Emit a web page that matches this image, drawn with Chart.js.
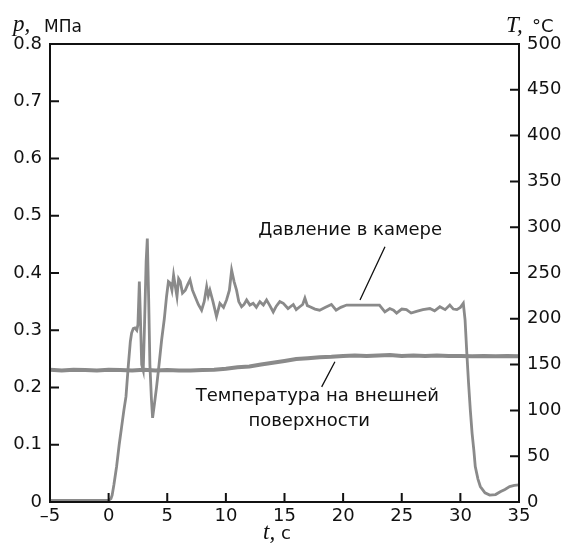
<!DOCTYPE html>
<html>
<head>
<meta charset="utf-8">
<script src="https://cdn.jsdelivr.net/npm/chart.js@4.4.1/dist/chart.umd.min.js"></script>
<style>
  html, body { margin: 0; padding: 0; background: #fff; }
  #chart { display: block; }
</style>
</head>
<body>
<canvas id="chart" width="566" height="543"></canvas>
<script>
// Pressure in the chamber, MPa (left axis)
const pressureTime = [
  -5, -2, 0, 0.2, 0.3, 0.45, 0.68, 0.9, 1.1, 1.3,
  1.48, 1.67, 1.85, 1.96, 2.1, 2.24, 2.4, 2.5, 2.62, 2.7,
  2.82, 2.95, 3.05, 3.2, 3.3, 3.42, 3.52, 3.65, 3.75, 3.9,
  4.09, 4.3, 4.52, 4.75, 4.94, 5.1, 5.26, 5.4, 5.54, 5.7,
  5.83, 5.97, 6.11, 6.3, 6.54, 6.75, 6.94, 7.15, 7.37, 7.65,
  7.93, 8.15, 8.36, 8.5, 8.64, 8.9, 9.2, 9.49, 9.8, 10.06,
  10.3, 10.49, 10.7, 10.91, 11.1, 11.34, 11.55, 11.77, 12.05, 12.33,
  12.6, 12.9, 13.2, 13.47, 13.75, 14.04, 14.3, 14.6, 14.9, 15.3,
  15.75, 16.0, 16.3, 16.55, 16.74, 16.95, 17.17, 17.6, 18.0, 18.5,
  19.0, 19.4, 19.8, 20.3, 21, 22, 23.1, 23.56, 23.98, 24.3,
  24.56, 25, 25.4, 25.8, 26.26, 26.8, 27.4, 27.8, 28.25, 28.7,
  29.1, 29.4, 29.7, 30.0, 30.25, 30.4, 30.55, 30.7, 30.85, 31.0,
  31.15, 31.27, 31.5, 31.7, 32.1, 32.5, 33.0, 33.4, 33.8, 34.2,
  34.6, 35
];
const pressureValue = [
  0.003, 0.003, 0.003, 0.006, 0.012, 0.03, 0.062, 0.1, 0.13, 0.16,
  0.184, 0.236, 0.28, 0.295, 0.303, 0.304, 0.3, 0.31, 0.385, 0.33,
  0.24, 0.23, 0.3, 0.42, 0.46, 0.35, 0.24, 0.18, 0.147, 0.17,
  0.201, 0.24, 0.283, 0.32, 0.359, 0.385, 0.382, 0.37, 0.396, 0.375,
  0.359, 0.39, 0.385, 0.365, 0.37, 0.38, 0.388, 0.37, 0.359, 0.345,
  0.335, 0.35, 0.376, 0.36, 0.37, 0.35, 0.324, 0.347, 0.34, 0.353,
  0.37, 0.405, 0.385, 0.37, 0.35, 0.341, 0.345, 0.353, 0.344, 0.347,
  0.34, 0.35, 0.344, 0.353, 0.343, 0.332, 0.342, 0.35, 0.347, 0.338,
  0.345, 0.336, 0.341, 0.345, 0.356, 0.343, 0.341, 0.337, 0.335, 0.34,
  0.345, 0.335, 0.34, 0.344, 0.344, 0.344, 0.344, 0.332, 0.338, 0.335,
  0.33, 0.337, 0.336, 0.33, 0.333, 0.336, 0.338, 0.334, 0.341, 0.336,
  0.344, 0.337, 0.336, 0.34, 0.347, 0.318, 0.26, 0.207, 0.16, 0.12,
  0.09, 0.062, 0.04, 0.027, 0.016, 0.012, 0.013, 0.018, 0.022, 0.027,
  0.029, 0.03
];

// Outer surface temperature, °C (right axis)
const tempTime = [
  -5, -4, -3, -2, -1, 0, 1, 2, 3, 4,
  5, 6, 7, 8, 9, 10, 11, 12, 13, 14,
  15, 16, 17, 18, 19, 20, 21, 22, 23, 24,
  25, 26, 27, 28, 29, 30, 31, 32, 33, 34,
  35
];
const tempValue = [
  144.5, 143.5, 144.5, 144, 143.5, 144.5, 144, 143.5, 144.5, 143.5,
  144, 143.5, 143.5, 144, 144.5, 145.5, 147, 148, 150, 152,
  154, 156, 157, 158, 158.5, 159.5, 160, 159.5, 160, 160.5,
  159.5, 160, 159.5, 160, 159.5, 159.5, 159, 159.5, 159, 159.5,
  159
];

const xTicks = [-5, 0, 5, 10, 15, 20, 25, 30, 35];
const pTicks = [0, 0.1, 0.2, 0.3, 0.4, 0.5, 0.6, 0.7, 0.8];
const tTicks = [0, 50, 100, 150, 200, 250, 300, 350, 400, 450, 500];

const SANS = '"DejaVu Sans", "Liberation Sans", sans-serif';
const SERIF = '"Liberation Serif", "DejaVu Serif", serif';
const LINE_GRAY = '#8a8a8a';
const TICK_LEN = 9;

// Labels and leader lines, positioned in data units (x: s, y: MPa)
const notes = [
  { text: 'Давление в камере', x: 20.6, y: 0.466 },
  { text: 'Температура на внешней', x: 17.8, y: 0.176 },
  { text: 'поверхности', x: 17.1, y: 0.132 }
];
const leaders = [
  { x1: 23.57, y1: 0.446, x2: 21.44, y2: 0.353 },
  { x1: 19.3, y1: 0.245, x2: 18.17, y2: 0.201 }
];

const frame = {
  id: 'frame',
  afterDraw(chart) {
    const ctx = chart.ctx;
    const a = chart.chartArea;
    const sx = chart.scales.x, sy = chart.scales.y, sy2 = chart.scales.y2;
    ctx.save();
    ctx.strokeStyle = '#111';
    ctx.lineWidth = 2;
    ctx.strokeRect(a.left, a.top, a.right - a.left, a.bottom - a.top);

    // inward tick marks
    ctx.beginPath();
    xTicks.forEach(v => {
      const px = sx.getPixelForValue(v);
      ctx.moveTo(px, a.bottom); ctx.lineTo(px, a.bottom - TICK_LEN);
    });
    pTicks.forEach(v => {
      const py = sy.getPixelForValue(v);
      ctx.moveTo(a.left, py); ctx.lineTo(a.left + TICK_LEN, py);
    });
    tTicks.forEach(v => {
      const py = sy2.getPixelForValue(v);
      ctx.moveTo(a.right, py); ctx.lineTo(a.right - TICK_LEN, py);
    });
    ctx.stroke();

    // axis titles
    ctx.fillStyle = '#111';
    ctx.textBaseline = 'alphabetic';
    ctx.textAlign = 'left';
    ctx.font = 'italic 23px ' + SERIF;
    ctx.fillText('p,', 13, 31);
    ctx.font = '17px ' + SANS;
    ctx.fillText('МПа', 44, 32);

    ctx.font = 'italic 23px ' + SERIF;
    ctx.fillText('T,', 506, 32);
    ctx.font = '18px ' + SANS;
    ctx.fillText('°C', 532, 32);

    ctx.font = 'italic 23px ' + SERIF;
    ctx.fillText('t,', 263, 539);
    ctx.font = '18px ' + SANS;
    ctx.fillText('c', 281, 539);

    // annotations
    ctx.font = '18px ' + SANS;
    ctx.textAlign = 'center';
    notes.forEach(n => {
      ctx.fillText(n.text, sx.getPixelForValue(n.x), sy.getPixelForValue(n.y));
    });
    ctx.lineWidth = 1.3;
    ctx.beginPath();
    leaders.forEach(l => {
      ctx.moveTo(sx.getPixelForValue(l.x1), sy.getPixelForValue(l.y1));
      ctx.lineTo(sx.getPixelForValue(l.x2), sy.getPixelForValue(l.y2));
    });
    ctx.stroke();
    ctx.restore();
  }
};

new Chart(document.getElementById('chart').getContext('2d'), {
  type: 'line',
  data: {
    datasets: [
      {
        label: 'Температура на внешней поверхности',
        data: tempTime.map((t, i) => ({ x: t, y: tempValue[i] })),
        yAxisID: 'y2',
        borderColor: LINE_GRAY,
        borderWidth: 4,
        pointRadius: 0
      },
      {
        label: 'Давление в камере',
        data: pressureTime.map((t, i) => ({ x: t, y: pressureValue[i] })),
        yAxisID: 'y',
        borderColor: LINE_GRAY,
        borderWidth: 2.8,
        pointRadius: 0
      }
    ]
  },
  options: {
    responsive: false,
    animation: false,
    layout: { padding: { top: 44, left: 0, right: 0, bottom: 0 } },
    plugins: { legend: { display: false }, tooltip: { enabled: false } },
    scales: {
      x: {
        type: 'linear',
        min: -5, max: 35,
        afterFit: s => { s.height = 41; },
        afterBuildTicks: s => { s.ticks = xTicks.map(v => ({ value: v })); },
        grid: { display: false, drawTicks: false },
        border: { display: false },
        ticks: {
          padding: 4,
          color: '#111',
          font: { family: SANS, size: 18 },
          callback: v => (v < 0 ? '–' + Math.abs(v) : String(v))
        }
      },
      y: {
        position: 'left',
        min: 0, max: 0.8,
        afterFit: s => { s.width = 50; },
        afterBuildTicks: s => { s.ticks = pTicks.map(v => ({ value: v })); },
        grid: { display: false, drawTicks: false },
        border: { display: false },
        ticks: {
          padding: 8,
          color: '#111',
          font: { family: SANS, size: 18 },
          callback: v => (v === 0 ? '0' : v.toFixed(1))
        }
      },
      y2: {
        position: 'right',
        min: 0, max: 500,
        afterFit: s => { s.width = 47; },
        afterBuildTicks: s => { s.ticks = tTicks.map(v => ({ value: v })); },
        grid: { display: false, drawTicks: false },
        border: { display: false },
        ticks: {
          padding: 8,
          color: '#111',
          font: { family: SANS, size: 18 },
          callback: v => String(v)
        }
      }
    }
  },
  plugins: [frame]
});
</script>
</body>
</html>
